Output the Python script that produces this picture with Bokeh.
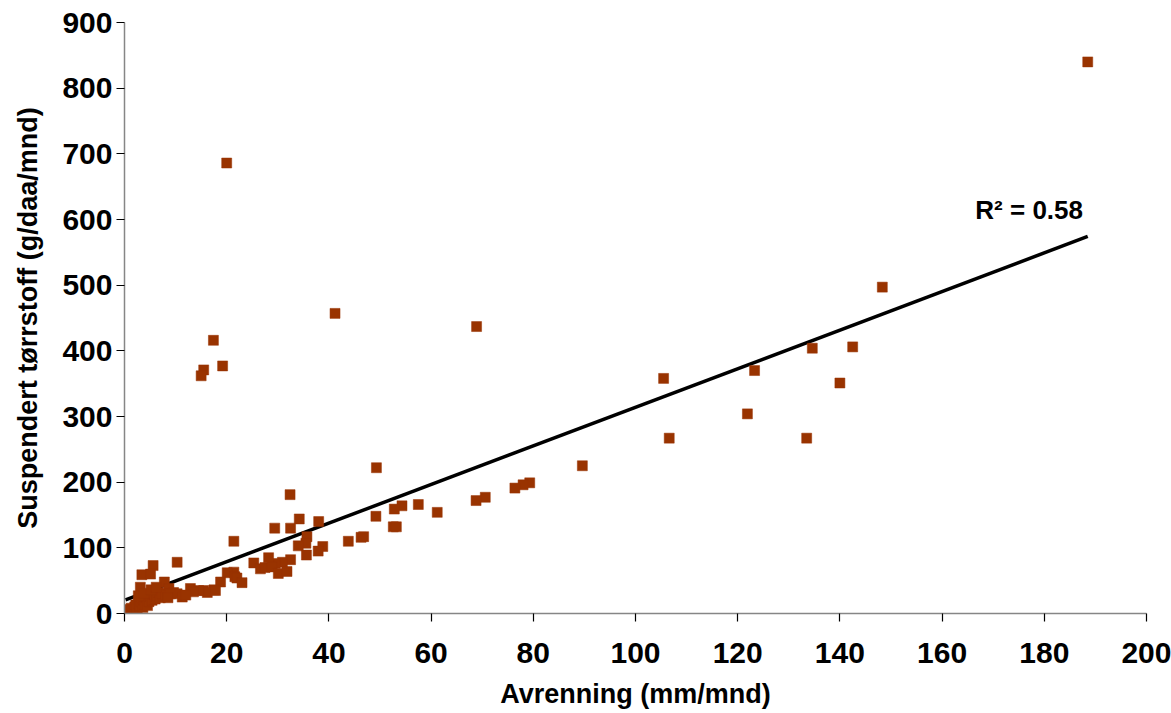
from bokeh.plotting import figure
from bokeh.models import Range1d, SingleIntervalTicker, Label
from bokeh.embed import file_html
from bokeh.resources import INLINE

# Avrenning (mm/mnd)
avrenning = [
    188.5, 20.0, 41.2, 68.9, 148.3, 17.4, 15.5, 15.0, 19.2, 105.5, 123.3, 134.6,
    142.5, 140.0, 121.9, 106.6, 133.5, 89.6,
    79.3, 78.0, 76.4, 70.6, 68.8, 61.2, 57.5, 54.3, 52.8, 52.6, 53.2, 49.2, 49.3,
    46.3, 46.8, 43.8, 38.0, 38.8, 37.9, 35.7, 35.5, 34.0, 35.6, 34.2, 32.4, 32.5,
    29.4, 21.4, 32.5, 30.9, 29.5, 28.2, 25.3, 26.6, 27.5, 28.9, 30.1, 31.8, 21.4,
    20.1, 21.6, 22.0, 23.0, 18.8, 17.5, 15.5, 16.2, 10.3, 5.6, 3.4, 5.1, 3.1, 7.8,
    8.7, 9.6, 10.3, 11.3, 12.9, 14.5, 17.8, 13.5, 12.0,
    0.2, 0.5, 0.8, 1.0, 1.3, 1.6, 2.0, 2.2, 2.5, 2.8, 3.0, 3.3, 3.6, 3.8, 4.0, 4.3,
    4.5, 4.8, 5.0, 5.4, 5.7, 6.0, 6.3, 6.7, 7.0, 7.4, 8.0, 2.7, 3.9, 5.2, 6.2, 9.0,
    8.5,
]
# Suspendert tørrstoff (g/daa/mnd)
torrstoff = [
    840, 686, 457, 437, 497, 416, 371, 362, 377, 358, 370, 404,
    406, 351, 304, 267, 267, 225,
    199, 196, 191, 177, 172, 154, 166, 164, 159, 132, 132, 148, 222,
    116, 117, 110, 140, 102, 95, 117, 107, 103, 89, 144, 181, 130,
    130, 110, 82, 78, 76, 85, 77, 68, 70, 71, 61, 64, 63,
    62, 56, 54, 47, 48, 36, 35, 32, 78, 73, 59, 60, 40, 48,
    38, 32, 30, 25, 38, 35, 35, 33, 28,
    1, 3, 6, 2, 8, 5, 10, 13, 7, 15, 11, 18, 9, 21, 14, 24,
    12, 18, 26, 20, 29, 22, 26, 32, 24, 30, 28, 27, 31, 36, 40, 30,
    24,
]
# Linear trendline: y = slope * x + intercept
trend_slope = 2.94
trend_intercept = 20.0
r2_text = "R² = 0.58"

x_title = "Avrenning (mm/mnd)"
y_title = "Suspendert tørrstoff (g/daa/mnd)"

FONT = "Liberation Sans"

p = figure(width=1171, height=713, output_backend="svg", toolbar_location=None,
           x_range=Range1d(0, 200), y_range=Range1d(0, 900),
           min_border_left=124, min_border_right=25, min_border_top=22,
           min_border_bottom=100)
p.outline_line_color = None
p.xgrid.grid_line_color = None
p.ygrid.grid_line_color = None
p.background_fill_color = "white"
p.border_fill_color = "white"

p.xaxis.ticker = SingleIntervalTicker(interval=20, num_minor_ticks=0)
p.yaxis.ticker = SingleIntervalTicker(interval=100, num_minor_ticks=0)

for ax in (p.xaxis, p.yaxis):
    ax.axis_line_color = "#868686"
    ax.axis_line_width = 1.5
    ax.major_tick_line_color = "black"
    ax.major_tick_line_width = 1.2
    ax.major_tick_out = 8
    ax.major_tick_in = 0
    ax.minor_tick_line_color = None
    ax.major_label_text_font = FONT
    ax.major_label_text_font_style = "bold"
    ax.major_label_text_font_size = "30px"
    ax.major_label_text_color = "black"
    ax.axis_label_text_font = FONT
    ax.axis_label_text_font_style = "bold"
    ax.axis_label_text_font_size = "27px"
    ax.axis_label_text_color = "black"

p.xaxis.axis_label = x_title
p.yaxis.axis_label = y_title
p.xaxis.major_label_standoff = 21
p.yaxis.major_label_standoff = 4
p.xaxis.axis_label_standoff = 13
p.yaxis.axis_label_standoff = 16

# trend line across the data range
x0, x1 = min(avrenning), max(avrenning)
p.line([x0, x1], [trend_slope * x0 + trend_intercept, trend_slope * x1 + trend_intercept],
       line_color="black", line_width=3.5)

p.scatter(avrenning, torrstoff, marker="square", size=10,
          fill_color="#993300", line_color="#993300", line_width=0.5)

p.add_layout(Label(x=166.5, y=615, text=r2_text, text_font=FONT,
                   text_font_style="bold", text_font_size="26px",
                   text_color="black", text_baseline="alphabetic"))

open("out.html", "w").write(file_html(p, INLINE))
